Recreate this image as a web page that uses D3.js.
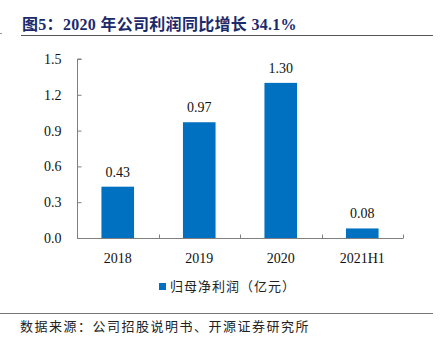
<!DOCTYPE html>
<html>
<head>
<meta charset="utf-8">
<script src="https://cdn.jsdelivr.net/npm/d3@7"></script>
<style>
  body { margin: 0; background: #fff; }
  svg { display: block; }
</style>
</head>
<body>
<div id="chart"></div>
<script>
var categories = ["2018", "2019", "2020", "2021H1"];
var values = [0.43, 0.97, 1.30, 0.08];
var valueLabels = ["0.43", "0.97", "1.30", "0.08"];
var yTicks = [0, 0.3, 0.6, 0.9, 1.2, 1.5];
var seriesName = "归母净利润（亿元）";
var title = "图5：2020 年公司利润同比增长 34.1%";
var source = "数据来源：公司招股说明书、开源证券研究所";

var size = {
  width: 440,
  height: 338,
  left: 77,
  right: 403,
  top: 59,
  bottom: 238
};
var barColor = "#0070c0";
var axisColor = "#7f7f7f";
var serif = "'Liberation Serif', 'Times New Roman', serif";
var cjk = "'Noto Sans CJK SC', sans-serif";

var svg = d3.select("#chart")
  .append("svg")
  .attr("width", size.width)
  .attr("height", size.height);

// title and frame lines
svg.append("text")
  .attr("x", 22)
  .attr("y", 30)
  .attr("fill", "#1b2a6b")
  .attr("font-family", serif + ", " + cjk)
  .attr("font-weight", "bold")
  .attr("font-size", 16)
  .attr("letter-spacing", 0.3)
  .text(title);

svg.append("line")
  .attr("x1", 21).attr("x2", 433)
  .attr("y1", 35.5).attr("y2", 35.5)
  .attr("stroke", "#555").attr("stroke-width", 1);

svg.append("line")
  .attr("x1", 0).attr("x2", 2)
  .attr("y1", 33.5).attr("y2", 33.5)
  .attr("stroke", "#999");

svg.append("line")
  .attr("x1", 0).attr("x2", 433)
  .attr("y1", 313.5).attr("y2", 313.5)
  .attr("stroke", "#777").attr("stroke-width", 1);

svg.append("text")
  .attr("x", 20)
  .attr("y", 331)
  .attr("fill", "#222")
  .attr("font-family", cjk)
  .attr("font-size", 13)
  .attr("letter-spacing", 1.5)
  .text(source);

// scales
var xScale = d3.scaleBand()
  .domain(categories)
  .range([size.left, size.right])
  .paddingInner(0.6)
  .paddingOuter(0.3);

var xTickScale = d3.scaleBand()
  .domain(categories)
  .range([size.left, size.right]);

var yScale = d3.scaleLinear()
  .domain([0, 1.5])
  .range([size.bottom, size.top]);

// bars
svg.selectAll("rect.bar")
  .data(values)
  .enter()
  .append("rect")
  .attr("class", "bar")
  .attr("x", function (d, i) { return xScale(categories[i]); })
  .attr("y", function (d) { return yScale(d); })
  .attr("width", xScale.bandwidth())
  .attr("height", function (d) { return size.bottom - yScale(d); })
  .attr("fill", barColor);

svg.selectAll("text.val")
  .data(values)
  .enter()
  .append("text")
  .attr("class", "val")
  .attr("x", function (d, i) { return xScale(categories[i]) + xScale.bandwidth() / 2; })
  .attr("y", function (d) { return yScale(d) - 10; })
  .attr("text-anchor", "middle")
  .attr("font-family", serif)
  .attr("font-size", 14)
  .attr("fill", "#111")
  .text(function (d, i) { return valueLabels[i]; });

// y axis
var yAxis = d3.axisRight(yScale)
  .tickValues(yTicks)
  .tickFormat(d3.format(".1f"))
  .tickSize(4);

var gy = svg.append("g")
  .attr("transform", "translate(" + (size.left + 0.5) + ",0)")
  .call(yAxis);
gy.select(".domain").attr("d", "M4," + size.top + "H0V" + size.bottom).attr("stroke", axisColor);
gy.selectAll(".tick line").attr("stroke", axisColor);
gy.selectAll(".tick text")
  .attr("x", -16)
  .attr("text-anchor", "end")
  .attr("font-family", serif)
  .attr("font-size", 14)
  .attr("fill", "#111");

// x axis
var xAxis = d3.axisBottom(xTickScale).tickSize(0).tickPadding(15);
var gx = svg.append("g")
  .attr("transform", "translate(0," + (size.bottom + 0.5) + ")")
  .call(xAxis);
gx.select(".domain").attr("stroke", axisColor).attr("d", "M" + size.left + ",0H" + size.right);
gx.selectAll(".tick text")
  .attr("font-family", serif)
  .attr("font-size", 14)
  .attr("fill", "#111");

// category boundary ticks
var bounds = categories.slice(1).map(function (c) { return xTickScale(c); }).concat([size.right]);
gx.selectAll("line.sep")
  .data(bounds)
  .enter()
  .append("line")
  .attr("class", "sep")
  .attr("x1", function (d) { return Math.round(d) + 0.5; })
  .attr("x2", function (d) { return Math.round(d) + 0.5; })
  .attr("y1", 0)
  .attr("y2", -4)
  .attr("stroke", axisColor);

// legend
var legend = svg.append("g").attr("transform", "translate(159,283)");
legend.append("rect")
  .attr("width", 7)
  .attr("height", 7)
  .attr("fill", barColor);
legend.append("text")
  .attr("x", 11)
  .attr("y", 8)
  .attr("font-family", cjk)
  .attr("font-size", 13)
  .attr("letter-spacing", 1)
  .attr("fill", "#222")
  .text(seriesName);
</script>
</body>
</html>
